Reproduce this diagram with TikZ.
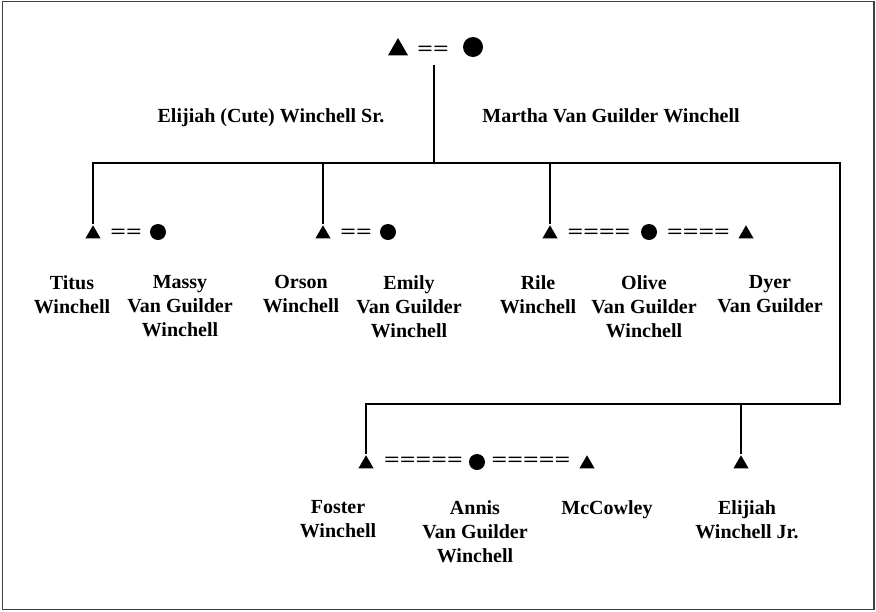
\documentclass[tikz,border=0pt]{standalone}
\usepackage{fontspec}
\setmainfont{Liberation Serif}
\usetikzlibrary{shapes.geometric}
\newcommand\bondline[1]{\scalebox{1.38}[1]{#1}}
\begin{document}
\begin{tikzpicture}[x=1pt, y=-1pt, line width=1.3pt,
  male/.style={regular polygon, regular polygon sides=3, fill=black, inner sep=0pt, minimum size=#1},
  male/.default=17.5,
  female/.style={circle, fill=black, inner sep=0pt, minimum size=#1},
  female/.default=16,
  bond/.style={inner sep=0pt, font=\bfseries\fontsize{20}{24}\selectfont},
  person/.style={anchor=north, align=center, inner sep=0pt, font=\bfseries\fontsize{20}{24}\selectfont}]
\useasboundingbox (0,0) rectangle (876,611);
\draw [black!75, line width=1.5pt] (2.5,1.5) rectangle (874,609.5);

\node [male=23] (cute) at (398,49.5) {};
\node [bond] (cutebond) at (433,51) {\bondline{==}};
\node [female=20] (martha) at (473,47) {};
\node [person] (cutename) at (271,107.5) {Elijiah (Cute) Winchell Sr.};
\node [person] (marthaname) at (611,107.5) {Martha Van Guilder Winchell};
\coordinate (topdrop) at (434,65);
\coordinate (bartop) at (840,163);
\coordinate (barlow) at (840,404);

\node [male] (titus) at (93,234) {};
\node [bond] (titusbond) at (126,233.5) {\bondline{==}};
\node [female] (massy) at (158,232) {};
\node [male] (orson) at (323,234) {};
\node [bond] (orsonbond) at (356,233.5) {\bondline{==}};
\node [female] (emily) at (388,232) {};
\node [male] (rile) at (550,234) {};
\node [bond] (rilebond) at (599,233.5) {\bondline{====}};
\node [female] (olive) at (649,232) {};
\node [bond] (olivebond) at (698.5,233.5) {\bondline{====}};
\node [male] (dyer) at (746,234) {};

\node [person] (titusname) at (72,274.5) {Titus\\Winchell};
\node [person] (massyname) at (180,274.5) {Massy\\Van Guilder\\Winchell};
\node [person] (orsonname) at (301,274.5) {Orson\\Winchell};
\node [person] (emilyname) at (409,274.5) {Emily\\Van Guilder\\Winchell};
\node [person] (rilename) at (538,274.5) {Rile\\Winchell};
\node [person] (olivename) at (644,274.5) {Olive\\Van Guilder\\Winchell};
\node [person] (dyername) at (770,274.5) {Dyer\\Van Guilder};

\node [male] (foster) at (366,464) {};
\node [bond] (fosterbond) at (423.5,462) {\bondline{=====}};
\node [female] (annis) at (477,462) {};
\node [bond] (annisbond) at (531,462) {\bondline{=====}};
\node [male] (mccowley) at (587,464) {};
\node [male] (elijr) at (741,464) {};

\node [person] (fostername) at (338,499.5) {Foster\\Winchell};
\node [person] (annisname) at (475,499.5) {Annis\\Van Guilder\\Winchell};
\node [person] (mccowleyname) at (607,499.5) {McCowley};
\node [person] (elijrname) at (747,499.5) {Elijiah\\Winchell Jr.};

\draw (topdrop) -- (topdrop |- bartop);
\draw (titus.corner 1) |- (bartop) -- (barlow) -| (foster.corner 1);
\draw (orson.corner 1) -- (orson.corner 1 |- bartop);
\draw (rile.corner 1) -- (rile.corner 1 |- bartop);
\draw (elijr.corner 1) -- (elijr.corner 1 |- barlow);
\end{tikzpicture}
\end{document}
